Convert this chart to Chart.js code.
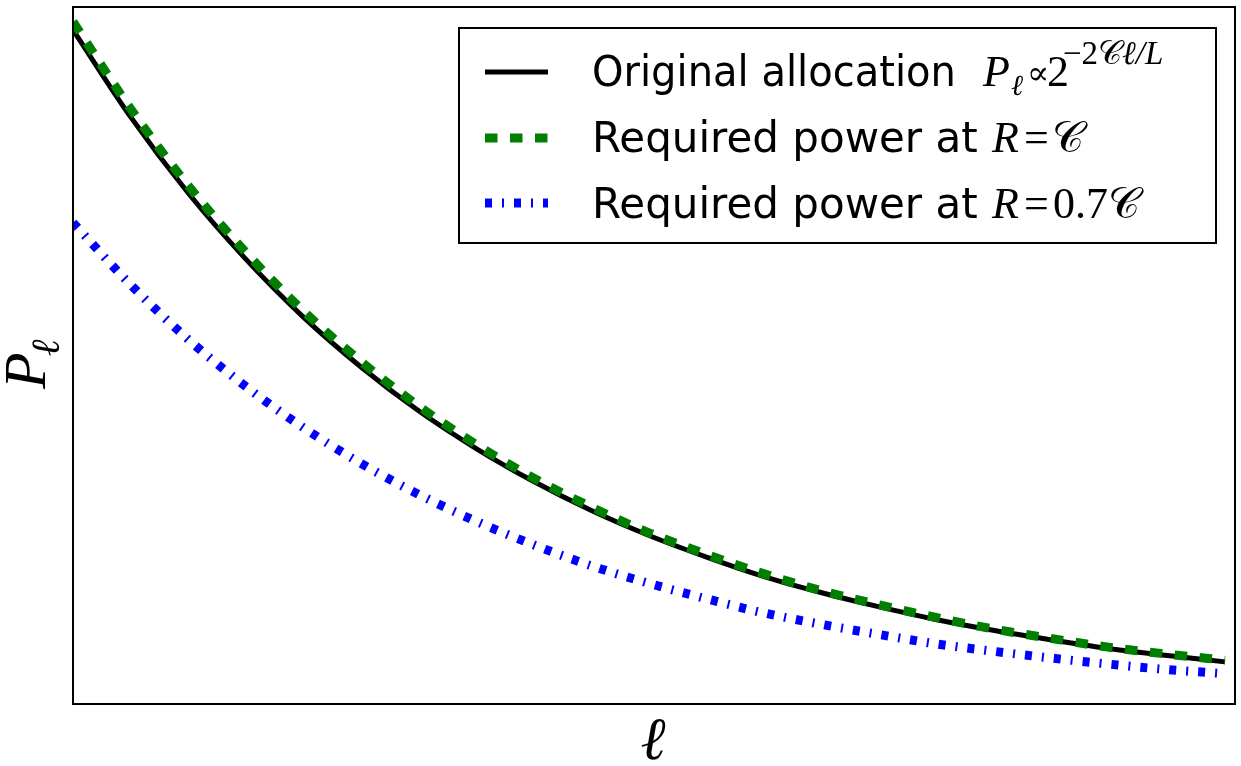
<!DOCTYPE html>
<html>
<head>
<meta charset="utf-8">
<script src="https://cdn.jsdelivr.net/npm/chart.js@4"></script>
<style>
  html, body { margin: 0; padding: 0; background: #fff; }
  #wrap { width: 1241px; height: 766px; position: relative; }
</style>
</head>
<body>
<div id="wrap"><canvas id="powerChart"></canvas></div>
<script>
// section index l/L (21 points)
const ell = [0, 0.05, 0.1, 0.15, 0.2, 0.25, 0.3, 0.35, 0.4, 0.45, 0.5,
             0.55, 0.6, 0.65, 0.7, 0.75, 0.8, 0.85, 0.9, 0.95, 1];
// original allocation P_l
const originalAlloc = [1.000, 0.871, 0.758, 0.660, 0.574, 0.500, 0.435, 0.379, 0.330, 0.287, 0.250,
                       0.218, 0.189, 0.165, 0.144, 0.125, 0.109, 0.095, 0.082, 0.072, 0.0625];
// required power at R = C
const requiredAtC = [1.012, 0.883, 0.769, 0.670, 0.583, 0.508, 0.442, 0.385, 0.335, 0.292, 0.254,
                     0.222, 0.193, 0.168, 0.147, 0.128, 0.111, 0.097, 0.084, 0.074, 0.065];
// required power at R = 0.7C
const requiredAt07C = [0.714, 0.622, 0.541, 0.471, 0.410, 0.357, 0.311, 0.271, 0.236, 0.205, 0.179,
                       0.156, 0.135, 0.118, 0.103, 0.089, 0.078, 0.068, 0.059, 0.051, 0.045];

const sans = '"DejaVu Sans", sans-serif';
const serif = '"Liberation Serif", "DejaVu Serif", serif';

const toPoints = ys => ys.map((y, i) => ({ x: ell[i], y: y }));

// legend labels as runs: [text, font, baseline shift, x (null = follow on), max width]
const legendLabels = [
    [['Original allocation', '42px ' + sans, 0, 592, 364],
     ['P', 'italic 44px ' + serif, 0, 983],
     ['\u2113', 'italic 29px ' + serif, 9, 1011],
     ['\u221D', '33px ' + serif, -2, 1027],
     ['2', '44px ' + serif, 0, 1047],
     ['\u2212', '33px ' + serif, -22, 1063],
     ['2', '33px ' + serif, -22, null],
     ['\uD835\uDC9E', '33px ' + serif, -22, null],
     ['\u2113', 'italic 33px ' + serif, -22, null],
     ['/', 'italic 33px ' + serif, -22, null],
     ['L', 'italic 33px ' + serif, -22, null]],
    [['Required power at', '42px ' + sans, 0, 592],
     ['R', 'italic 44px ' + serif, 0, 992],
     ['=', '44px ' + serif, 0, 1024],
     ['\uD835\uDC9E', '44px ' + serif, 0, 1052]],
    [['Required power at', '42px ' + sans, 0, 592],
     ['R', 'italic 44px ' + serif, 0, 992],
     ['=', '44px ' + serif, 0, 1024],
     ['0.7', '44px ' + serif, 0, 1053],
     ['\uD835\uDC9E', '44px ' + serif, 0, null]]
];

function drawRuns(ctx, y, runs) {
    let x = 0;
    runs.forEach(r => {
        if (r[3] !== null) x = r[3];
        ctx.font = r[1];
        let w = ctx.measureText(r[0]).width;
        if (r[4] && w > r[4]) {
            ctx.fillText(r[0], x, y + r[2], r[4]);
            w = r[4];
        } else {
            ctx.fillText(r[0], x, y + r[2]);
        }
        x += w;
    });
}

// frame, legend and axis labels drawn on top of the lines
const decorations = {
    id: 'decorations',
    afterDraw(chart) {
        const ctx = chart.ctx;
        const a = chart.chartArea;
        ctx.save();
        ctx.strokeStyle = '#000';
        ctx.lineWidth = 2;
        ctx.strokeRect(a.left, a.top, a.right - a.left, a.bottom - a.top);

        // legend box
        ctx.fillStyle = '#fff';
        ctx.fillRect(459, 28, 757, 215);
        ctx.strokeRect(459, 28, 757, 215);
        const rows = [72, 138, 203];
        const bases = [86, 152, 218];
        chart.data.datasets.forEach((ds, i) => {
            ctx.save();
            ctx.strokeStyle = ds.borderColor;
            ctx.lineWidth = ds.borderWidth;
            ctx.setLineDash(ds.borderDash || []);
            ctx.beginPath();
            ctx.moveTo(485, rows[i]);
            ctx.lineTo(548, rows[i]);
            ctx.stroke();
            ctx.restore();
            ctx.fillStyle = '#000';
            ctx.textBaseline = 'alphabetic';
            drawRuns(ctx, bases[i], legendLabels[i]);
        });

        // y label P_l
        ctx.fillStyle = '#000';
        ctx.save();
        ctx.translate(45, 389);
        ctx.rotate(-Math.PI / 2);
        ctx.font = 'italic 60px ' + serif;
        ctx.fillText('P', 0, 0);
        const pw = ctx.measureText('P').width;
        ctx.font = 'italic 40px ' + serif;
        ctx.fillText('\u2113', pw - 4, 14);
        ctx.restore();

        // x label l
        ctx.font = 'italic 60px ' + serif;
        ctx.textAlign = 'center';
        ctx.fillText('\u2113', 653, 759);
        ctx.restore();
    }
};

new Chart(document.getElementById('powerChart'), {
    type: 'line',
    data: {
        datasets: [{
            label: 'Original allocation',
            data: toPoints(originalAlloc),
            borderColor: '#000000',
            borderWidth: 5,
            order: 3
        }, {
            label: 'Required power at R=C',
            data: toPoints(requiredAtC),
            borderColor: '#007f00',
            borderWidth: 9,
            borderDash: [12.5, 12.5],
            order: 2
        }, {
            label: 'Required power at R=0.7C',
            data: toPoints(requiredAt07C),
            borderColor: '#0000ff',
            borderWidth: 9,
            borderDash: [7, 10, 2, 10],
            order: 1
        }]
    },
    options: {
        responsive: true,
        maintainAspectRatio: false,
        animation: false,
        layout: { padding: { left: 73, top: 7, right: 6, bottom: 62 } },
        elements: {
            point: { radius: 0 },
            line: { cubicInterpolationMode: 'monotone', fill: false }
        },
        scales: {
            x: { type: 'linear', min: 0, max: 1.0087, display: false },
            y: { min: 0, max: 1.034, display: false }
        },
        plugins: {
            legend: { display: false },
            tooltip: { enabled: false }
        }
    },
    plugins: [decorations]
});
</script>
</body>
</html>
